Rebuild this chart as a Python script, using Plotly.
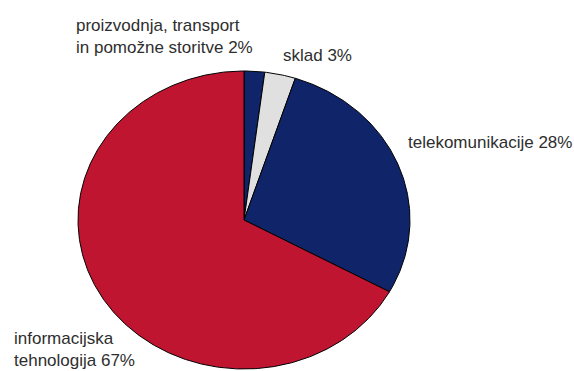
import numpy as np
import plotly.graph_objects as go

# Shares of the sectors (percent), listed clockwise from 12 o'clock
sectors = ["proizvodnja, transport<br>in pomožne storitve", "sklad",
           "telekomunikacije", "informacijska<br>tehnologija"]
shares = [2, 3, 28, 67]
colors = ["#10246a", "#e0e0e0", "#10246a", "#c01530"]

W, H = 574, 371
# pie centre and radii in pixels (the pie is drawn slightly wider than tall)
cx, cy, rx, ry = 244, 220, 166, 149

fig = go.Figure()
start = 0.0
total = float(sum(shares))
for name, val, col in zip(sectors, shares, colors):
    a0 = start / total * 2 * np.pi
    a1 = (start + val) / total * 2 * np.pi
    t = np.linspace(a0, a1, max(8, int(val * 6)))
    xs = np.concatenate([[0], np.sin(t), [0]])
    ys = np.concatenate([[0], np.cos(t), [0]])
    fig.add_trace(go.Scatter(
        x=xs, y=ys, mode="lines", fill="toself", fillcolor=col,
        line=dict(color="#000000", width=1), name=name.replace("<br>", " "),
        hoverinfo="name", showlegend=False,
    ))
    start += val

# axis ranges chosen so that one data unit = rx / ry pixels
fig.update_xaxes(range=[-cx / rx, (W - cx) / rx], visible=False, fixedrange=True)
fig.update_yaxes(range=[-(H - cy) / ry, cy / ry], visible=False, fixedrange=True)

font = dict(family="Liberation Sans, Arial, sans-serif", size=17, color="#2e2e2e")

# label positions in pixels (left edge, vertical centre)
label_pos = [(75, 37), (282, 56), (407, 142), (13, 349)]
for name, val, (px, py) in zip(sectors, shares, label_pos):
    fig.add_annotation(
        x=px / W, y=1 - py / H, xref="paper", yref="paper",
        text=f"{name} {val}%", showarrow=False, xanchor="left", yanchor="middle",
        align="left", font=font, borderpad=0,
    )

fig.update_layout(
    width=W, height=H, margin=dict(l=0, r=0, t=0, b=0),
    paper_bgcolor="white", plot_bgcolor="white",
)
fig.write_html("out.html")
